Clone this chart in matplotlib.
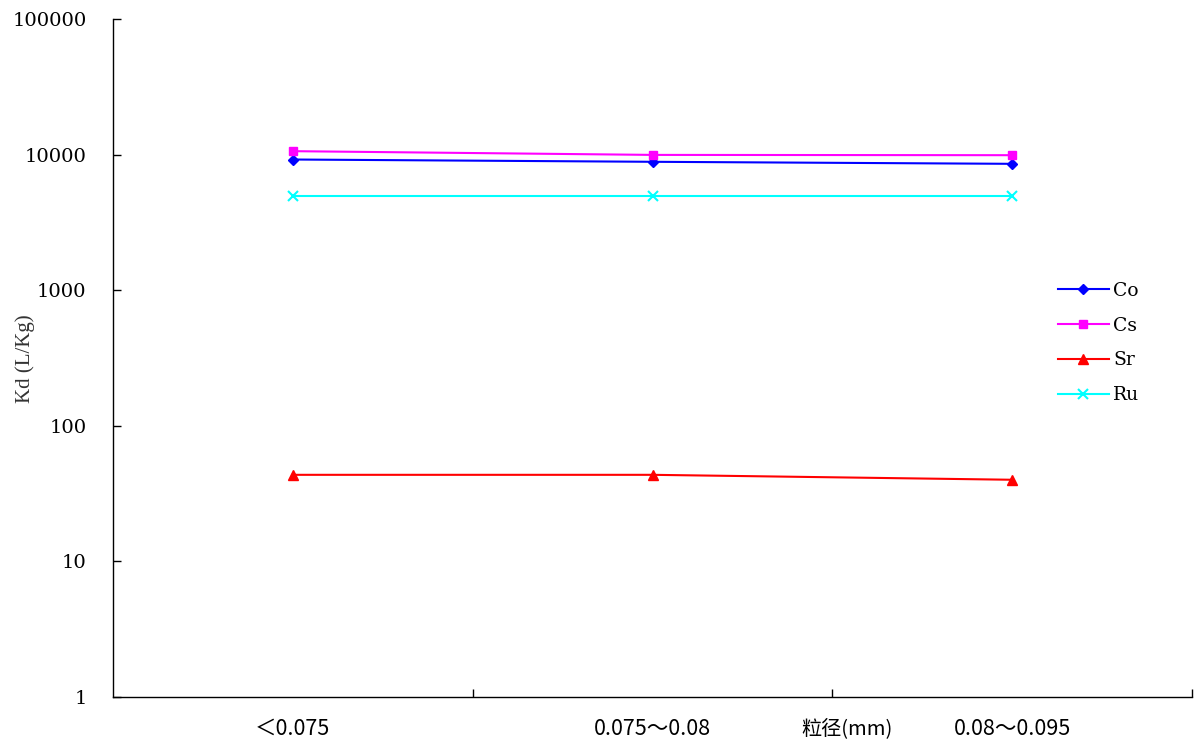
import numpy as np
import matplotlib
matplotlib.use('Agg')
import matplotlib.pyplot as plt
from matplotlib import transforms

# categories (particle size, mm) and Kd values (L/Kg)
categories = ['＜0.075', '0.075～0.08', '0.08～0.095']
kd_co = [9200, 8850, 8550]
kd_cs = [10600, 9950, 9900]
kd_sr = [43.5, 43.5, 40.0]
kd_ru = [4950, 4950, 4950]
y_ticks = [1, 10, 100, 1000, 10000, 100000]

fig = plt.figure(figsize=(12, 7.45), dpi=100)
ax = fig.add_axes([113/1200, 48/745, 1079/1200, 678/745])

x = np.arange(len(categories))
ax.plot(x, kd_co, color='#0000ff', marker='D', markersize=5.5, linewidth=1.5, label='Co')
ax.plot(x, kd_cs, color='#ff00ff', marker='s', markersize=6, linewidth=1.5, label='Cs')
ax.plot(x, kd_sr, color='#ff0000', marker='^', markersize=7, linewidth=1.5, label='Sr')
ax.plot(x, kd_ru, color='#00ffff', marker='x', markersize=7, markeredgewidth=1.5, linewidth=1.5, label='Ru')

ax.set_yscale('log')
ax.set_ylim(1, 100000)
ax.set_xlim(-0.5, 2.5)
ax.set_yticks(y_ticks)
ax.set_yticklabels([str(v) for v in y_ticks], family='DejaVu Serif', fontsize=14)
ax.yaxis.set_minor_locator(plt.NullLocator())
ax.tick_params(axis='y', direction='in', length=6, width=1, pad=19)

# category boundaries as major ticks, labels at category centres
ax.set_xticks([0.5, 1.5, 2.5])
ax.set_xticklabels([])
ax.set_xticks(x, minor=True)
ax.set_xticklabels(categories, minor=True, family=['Noto Sans CJK SC', 'DejaVu Sans'], fontsize=15.5)
ax.tick_params(axis='x', which='major', direction='in', length=6, width=1)
ax.tick_params(axis='x', which='minor', length=0, pad=15)

for s in ['top', 'right']:
    ax.spines[s].set_visible(False)
for s in ['left', 'bottom']:
    ax.spines[s].set_linewidth(1)

trans = transforms.blended_transform_factory(ax.transData, ax.transAxes)
ax.text(1.54, -0.046, '粒径(mm)', transform=trans, ha='center', va='center',
        family=['Noto Sans CJK SC', 'DejaVu Sans'], fontsize=14.5)

fig.text(25/1200, 1-359/745, 'Kd (L/Kg)', rotation=90, ha='center', va='center',
         family='Liberation Serif', fontsize=15, color='#333333')

leg = ax.legend(loc='center left', bbox_to_anchor=(1058/1200, 1-343/745),
                bbox_transform=fig.transFigure, frameon=False, borderpad=0,
                borderaxespad=0, handlelength=2.7, handletextpad=0.25,
                labelspacing=0.9, prop={'family': 'DejaVu Serif', 'size': 13.5})

fig.savefig('out.png', dpi=100)
